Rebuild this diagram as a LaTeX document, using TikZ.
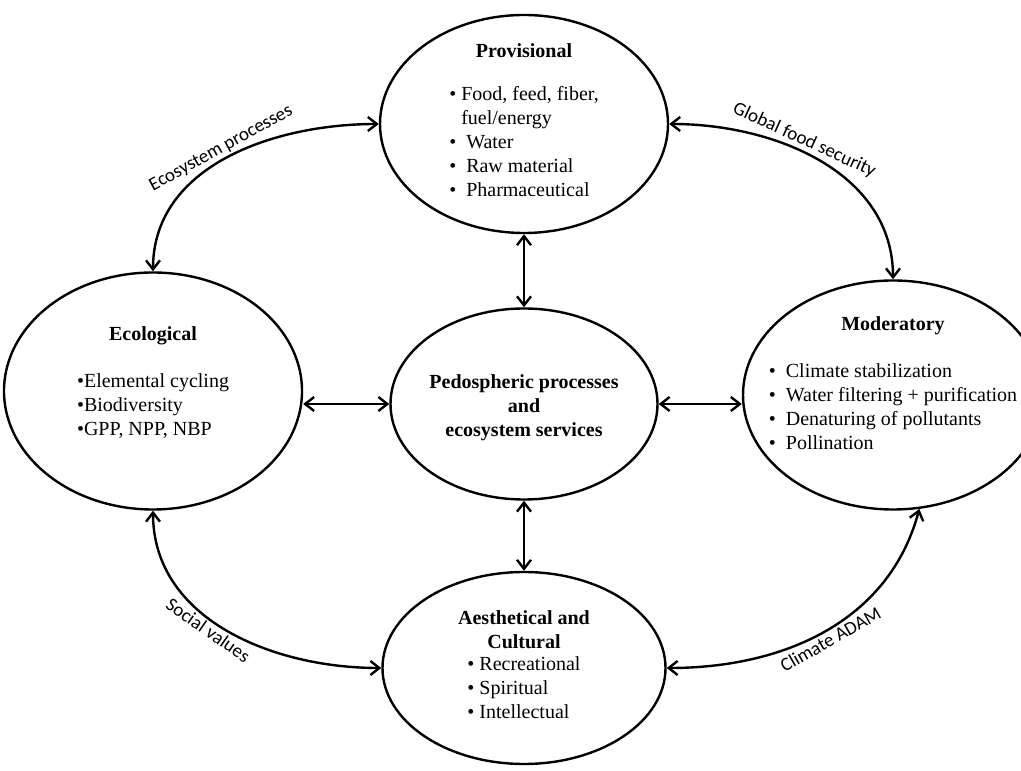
\documentclass[tikz,border=0pt]{standalone}
\usepackage{fontspec}
\setmainfont{Liberation Serif}
\newfontfamily\labelfont{Carlito}
\usetikzlibrary{arrows.meta,shapes.geometric}

\tikzset{
    pillar/.style={ellipse, draw, line width=1.2pt},
    blurb/.style={align=center},
    flow/.style={<->, line width=1.2pt},
    tag/.style={font=\labelfont\fontsize{9.5}{11}\selectfont, sloped, inner sep=1pt},
}

\begin{document}
\begin{tikzpicture}[x=0.5pt, y=0.5pt, >={Straight Barb[length=4.5pt,width=7pt]}]
    \clip (0,0) rectangle (1021,770);

    % Ellipses {core, prov, eco, moder, culture}
    \node [pillar, minimum width=133.5pt, minimum height=95.5pt] (core) at (524,366) {};
    \node [pillar, minimum width=144pt, minimum height=109pt]    (prov)    [above of=core, node distance=140pt] {};
    \node [pillar, minimum width=141.5pt, minimum height=96pt]   (culture) [below of=core, node distance=132pt] {};
    \node [pillar, minimum width=149pt, minimum height=118.5pt]  (eco)     [left of=core, node distance=185.5pt, yshift=6.5pt] {};
    \node [pillar, minimum width=150pt, minimum height=114.5pt]  (moder)   [right of=core, node distance=184.5pt, yshift=4.5pt] {};

    % Texts
    \node [blurb, font=\bfseries] (coretxt) at (core) [yshift=-2pt]
        {Pedospheric processes\\and\\ecosystem services};
    \node [blurb] (provtxt) at (prov)
        {\textbf{Provisional}\\[12pt]
         \begin{tabular}{@{}l@{}}
         \textbullet~Food, feed, fiber,\\
         \phantom{\textbullet~}fuel/energy\\
         \textbullet~~Water\\
         \textbullet~~Raw material\\
         \textbullet~~Pharmaceutical
         \end{tabular}};
    \node [blurb] (ecotxt) at (eco) [yshift=3pt]
        {\textbf{Ecological}\\[12pt]
         \begin{tabular}{@{}l@{}}
         \textbullet{}Elemental cycling\\
         \textbullet{}Biodiversity\\
         \textbullet{}GPP, NPP, NBP
         \end{tabular}};
    \node [blurb] (modertxt) at (moder) [yshift=4pt]
        {\textbf{Moderatory}\\[12pt]
         \begin{tabular}{@{}l@{}}
         \textbullet~~Climate stabilization\\
         \textbullet~~Water filtering + purification\\
         \textbullet~~Denaturing of pollutants\\
         \textbullet~~Pollination
         \end{tabular}};
    \node [blurb] (culturetxt) at (culture)
        {\textbf{Aesthetical and}\\\textbf{Cultural}\\[1.5pt]
         \begin{tabular}{@{}l@{}}
         \textbullet~Recreational\\
         \textbullet~Spiritual\\
         \textbullet~Intellectual
         \end{tabular}};

    % Straight links
    \draw [flow] (prov) -- (core);
    \draw [flow] (core) -- (culture);
    \draw [flow] (eco.east |- core.west) -- (core.west);
    \draw [flow] (core.east) -- (moder.west |- core.east);

    % Curved links
    \draw [flow] (eco.north) to [out=90, in=180]
        node [tag, above, pos=0.5] {Ecosystem processes} (prov.west);
    \draw [flow] (prov.east) to [out=0, in=90]
        node [tag, above, pos=0.42] {Global food security} (moder.north);
    \draw [flow] (eco.south) to [out=-90, in=180]
        node [tag, below, pos=0.45] {Social values} (culture.west);
    \draw [flow] (culture.east) to [out=0, in=-105]
        node [tag, below, pos=0.5] {Climate ADAM} (moder.-77);
\end{tikzpicture}
\end{document}
